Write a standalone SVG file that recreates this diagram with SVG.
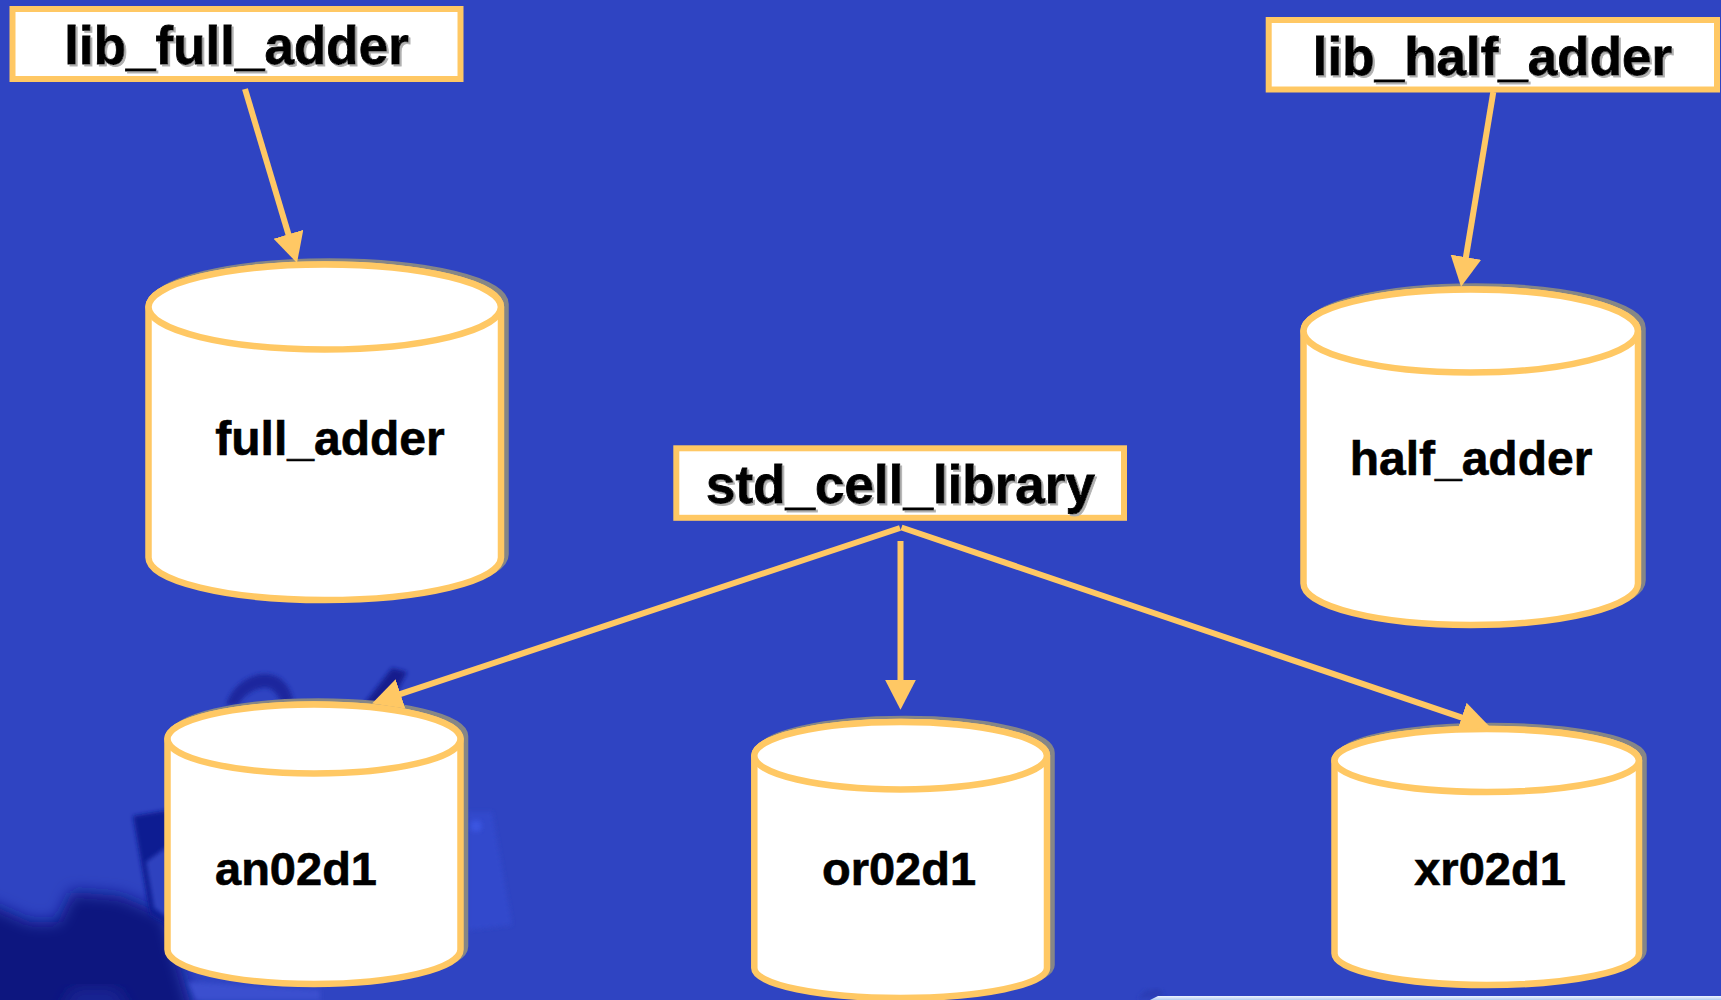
<svg xmlns="http://www.w3.org/2000/svg" width="1721" height="1000" viewBox="0 0 1721 1000">
<style>
.box{fill:#fff;stroke:#ffc864;stroke-width:6}
.body{fill:#fff;stroke:#ffc864;stroke-width:6.5}
.shade{fill:#868686;stroke:#868686;stroke-width:6.5}
.lid{fill:#fff;stroke:#ffc864;stroke-width:6.5}
.title{font-family:"Liberation Sans",Arial,sans-serif;font-weight:700;font-size:53px;fill:#000;stroke:#000;stroke-width:.8;filter:url(#ts);text-anchor:middle}
.name{font-family:"Liberation Sans",Arial,sans-serif;font-weight:700;font-size:47px;fill:#000;stroke:#000;stroke-width:.6;text-anchor:middle}
.wide{font-size:48px}
.conn{stroke:#ffc864;stroke-width:6;fill:none}
.arrow{marker-end:url(#head)}
</style>
<defs>
<marker id="head" markerUnits="userSpaceOnUse" markerWidth="32" markerHeight="32" refX="2" refY="15.5" orient="auto"><path d="M0,0 L30,15.5 L0,31 Z" fill="#ffc864"/></marker>
<filter id="ts" x="-5%" y="-10%" width="110%" height="125%"><feDropShadow dx="2" dy="2" stdDeviation="0.5" flood-color="#b0b0b0"/></filter>
<filter id="b6" x="-20%" y="-30%" width="140%" height="160%"><feGaussianBlur stdDeviation="8"/></filter>
<filter id="b2" x="-20%" y="-20%" width="140%" height="140%"><feGaussianBlur stdDeviation="2"/></filter>
<linearGradient id="strip" x1="0" y1="0" x2="0" y2="1"><stop offset="0" stop-color="#eef4ff"/><stop offset="1" stop-color="#b4cdf0"/></linearGradient>
</defs>
<rect width="1721" height="1000" fill="#2f44c2"/>
<g id="backdrop">
<path d="M468 812 L492 812 L512 925 L468 930 Z" fill="#3349cc" filter="url(#b2)"/>
<circle cx="476" cy="826" r="6" fill="#3b55e0" filter="url(#b2)"/>
<path d="M-20 1020 L-20 900 L30 922 L58 922 L72 892 L120 896 L165 915 L195 1020 Z" fill="#10187f" filter="url(#b6)"/>
<path d="M60 1010 L75 990 L115 990 L130 1010 Z" fill="#1a2596" filter="url(#b6)"/>
<path d="M133 816 L168 810 L168 925 L150 915 Z" fill="#0f1c92" filter="url(#b2)"/>
<path d="M146 862 L168 846 L168 918 L154 908 Z" fill="#2e42bf" filter="url(#b2)"/>
<path d="M188 982 L320 990 L320 1000 L196 1000 Z" fill="#3a4fcf" filter="url(#b2)"/>
<path d="M226 705 C232 685 250 674 265 674 C282 674 292 688 294 705 L282 705 C278 694 272 686 262 688 C250 690 242 698 238 705 Z" fill="#1a269e" filter="url(#b2)"/>
<path d="M364 704 L392 668 L407 672 L390 704 Z" fill="#121c8e" filter="url(#b2)"/>
<path d="M1138 999 L1146 990 L1160 989 L1164 997 Z" fill="#2a3db5" filter="url(#b2)"/>
<path d="M1150 1000 L1158 996 L1721 996 L1721 1000 Z" fill="url(#strip)"/>
</g>
<g id="lib_full_adder">
<rect class="box" x="12.5" y="9" width="448" height="70"/>
<text class="title" x="236.5" y="64">lib_full_adder</text>
</g>
<g id="lib_half_adder">
<rect class="box" x="1268.7" y="20" width="448.3" height="69.5"/>
<text class="title" x="1492.5" y="75">lib_half_adder</text>
</g>
<g id="std_cell_library">
<rect class="box" x="676.3" y="448.3" width="447.7" height="69.5"/>
<text class="title" x="900.5" y="503">std_cell_library</text>
</g>
<g id="full_adder">
<path class="shade" transform="translate(4.5,-3)" d="M148.5 307V557.5A176 42.5 0 0 0 501 557.5V307A176 42.5 0 0 0 148.5 307Z"/>
<path class="body" d="M148.5 307V557.5A176 42.5 0 0 0 501 557.5V307A176 42.5 0 0 0 148.5 307Z"/>
<ellipse class="lid" cx="324.7" cy="307" rx="176.2" ry="42.5"/>
<text class="name wide" x="330" y="455">full_adder</text>
</g>
<g id="half_adder">
<path class="shade" transform="translate(4.5,-3)" d="M1303.5 331V583.5A167.2 41.5 0 0 0 1638 583.5V331A167.2 41.5 0 0 0 1303.5 331Z"/>
<path class="body" d="M1303.5 331V583.5A167.2 41.5 0 0 0 1638 583.5V331A167.2 41.5 0 0 0 1303.5 331Z"/>
<ellipse class="lid" cx="1470.7" cy="331" rx="167.2" ry="41.5"/>
<text class="name wide" x="1471" y="475">half_adder</text>
</g>
<g id="an02d1">
<path class="shade" transform="translate(4.5,-3)" d="M167.5 739V949.5A146.5 34.5 0 0 0 460.5 949.5V739A146.5 34.5 0 0 0 167.5 739Z"/>
<path class="body" d="M167.5 739V949.5A146.5 34.5 0 0 0 460.5 949.5V739A146.5 34.5 0 0 0 167.5 739Z"/>
<ellipse class="lid" cx="314" cy="739" rx="146.5" ry="34.5"/>
<text class="name" x="296" y="885">an02d1</text>
</g>
<g id="or02d1">
<path class="shade" transform="translate(4.5,-3)" d="M754.3 755.7V968A146.3 30 0 0 0 1047 968V755.7A146.3 33.7 0 0 0 754.3 755.7Z"/>
<path class="body" d="M754.3 755.7V968A146.3 30 0 0 0 1047 968V755.7A146.3 33.7 0 0 0 754.3 755.7Z"/>
<ellipse class="lid" cx="900.6" cy="755.7" rx="146.3" ry="33.7"/>
<text class="name" x="899" y="885">or02d1</text>
</g>
<g id="xr02d1">
<path class="shade" transform="translate(4.5,-3)" d="M1334.5 760.5V953.5A152.2 31.5 0 0 0 1639 953.5V760.5A152.2 31.5 0 0 0 1334.5 760.5Z"/>
<path class="body" d="M1334.5 760.5V953.5A152.2 31.5 0 0 0 1639 953.5V760.5A152.2 31.5 0 0 0 1334.5 760.5Z"/>
<ellipse class="lid" cx="1486.7" cy="760.5" rx="152.2" ry="31.5"/>
<text class="name" x="1490" y="885">xr02d1</text>
</g>
<g id="connectors">
<line class="conn arrow" x1="245" y1="89" x2="289" y2="236.2"/>
<line class="conn arrow" x1="1493.3" y1="92" x2="1465.6" y2="259.1"/>
<line class="conn arrow" x1="900.5" y1="541" x2="900.5" y2="681.7"/>
<line class="conn arrow" x1="900" y1="528" x2="398.6" y2="694.6"/>
<line class="conn arrow" x1="901.5" y1="527.5" x2="1463.5" y2="718.1"/>
</g>
</svg>
